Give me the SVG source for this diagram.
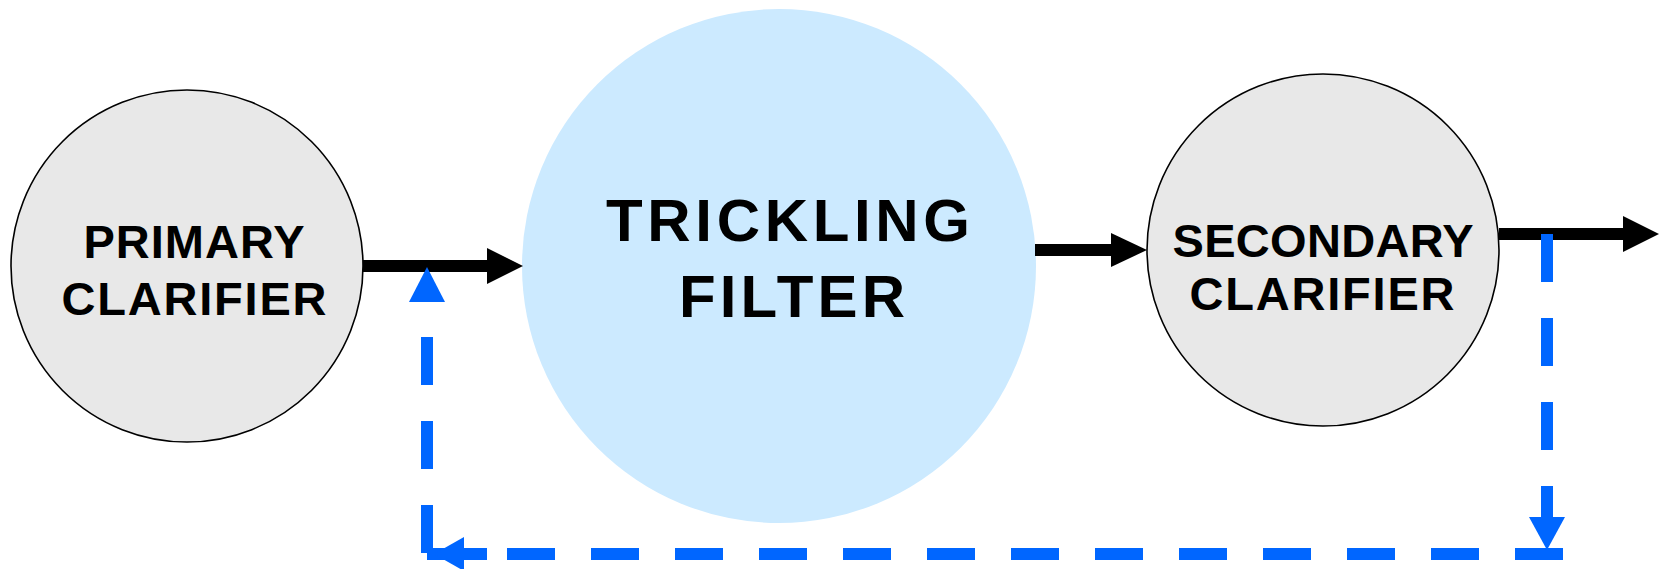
<svg xmlns="http://www.w3.org/2000/svg" width="1666" height="569" viewBox="0 0 1666 569">
<style>
.gray{fill:#e8e8e8;stroke:#000;stroke-width:1.6}
.blue{fill:#cceaff}
.lbl{font-family:"Liberation Sans",Arial,sans-serif;font-weight:bold;fill:#000;text-anchor:middle}
.sm{font-size:47px}
.lg{font-size:60px}
.flow{stroke:#000;stroke-width:12;fill:none}
.ret{stroke:#0066ff;stroke-width:12;fill:none;stroke-dasharray:48 36}
.retsolid{stroke:#0066ff;stroke-width:12;fill:none}
.headk{fill:#000}
.headb{fill:#0066ff}
</style>
<rect width="1666" height="569" fill="#fff"/>
<g id="primary-clarifier">
<circle class="gray" cx="187" cy="266" r="176"/>
<text class="lbl sm" x="194" y="258" textLength="221" lengthAdjust="spacing">PRIMARY</text>
<text class="lbl sm" x="194" y="315" textLength="265" lengthAdjust="spacing">CLARIFIER</text>
</g>
<g id="trickling-filter">
<circle class="blue" cx="779" cy="266" r="257"/>
<text class="lbl lg" x="788" y="241" textLength="364" lengthAdjust="spacing">TRICKLING</text>
<text class="lbl lg" x="792" y="317" textLength="226" lengthAdjust="spacing">FILTER</text>
</g>
<g id="secondary-clarifier">
<circle class="gray" cx="1323" cy="250" r="176"/>
<text class="lbl sm" x="1323" y="257" textLength="301" lengthAdjust="spacing">SECONDARY</text>
<text class="lbl sm" x="1322" y="310" textLength="265" lengthAdjust="spacing">CLARIFIER</text>
</g>
<g id="connectors">
<line class="flow" x1="363" y1="266" x2="488" y2="266"/>
<polygon class="headk" points="487,248 523,266 487,284"/>
<line class="flow" x1="1035" y1="250" x2="1112" y2="250"/>
<polygon class="headk" points="1111,233 1147,250 1111,267"/>
<line class="flow" x1="1499" y1="234" x2="1624" y2="234"/>
<polygon class="headk" points="1623,216 1659,234 1623,252"/>
<line class="ret" x1="1547" y1="234" x2="1547" y2="520"/>
<polygon class="headb" points="1529,517 1565,517 1547,550"/>
<line class="ret" x1="1563" y1="554" x2="507" y2="554"/>
<line class="retsolid" x1="487" y1="554" x2="427" y2="554"/>
<polygon class="headb" points="464,537 434,554 464,571"/>
<line class="ret" x1="427" y1="553" x2="427" y2="303"/>
<polygon class="headb" points="409,302 445,302 427,267"/>
</g>
</svg>
